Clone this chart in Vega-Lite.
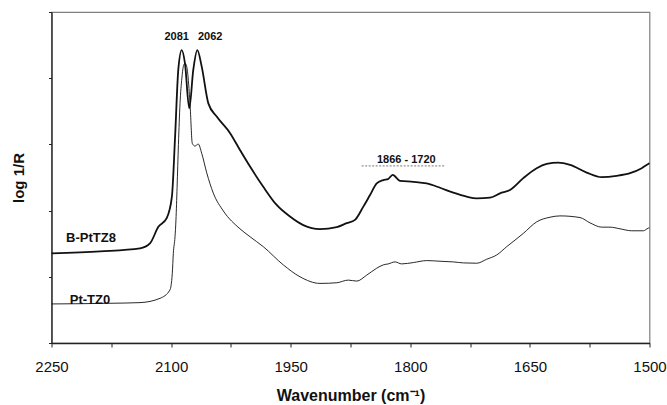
{
  "$schema": "https://vega.github.io/schema/vega-lite/v6.json",
  "width": 598,
  "height": 331,
  "autosize": {"type": "none"},
  "padding": {"left": 51.5, "top": 12, "right": 17.5, "bottom": 62},
  "background": "white",
  "config": {
    "font": "Liberation Sans",
    "view": {"stroke": "#7f7f7f", "strokeWidth": 1.2},
    "axis": {"grid": false, "domainColor": "#222", "tickColor": "#222", "domainWidth": 1.3, "labelColor": "#111", "titleColor": "#111"}
  },
  "datasets": {
    "spectra": [
      {"sample": "B-PtTZ8", "wavenumber": 2250, "absorbance": 2.71},
      {"sample": "B-PtTZ8", "wavenumber": 2189, "absorbance": 2.77},
      {"sample": "B-PtTZ8", "wavenumber": 2139, "absorbance": 2.86},
      {"sample": "B-PtTZ8", "wavenumber": 2126.5, "absorbance": 3.01},
      {"sample": "B-PtTZ8", "wavenumber": 2116, "absorbance": 3.51},
      {"sample": "B-PtTZ8", "wavenumber": 2105.5, "absorbance": 3.77},
      {"sample": "B-PtTZ8", "wavenumber": 2099, "absorbance": 4.42},
      {"sample": "B-PtTZ8", "wavenumber": 2095, "absorbance": 6.23},
      {"sample": "B-PtTZ8", "wavenumber": 2091, "absorbance": 8.25},
      {"sample": "B-PtTZ8", "wavenumber": 2086.7, "absorbance": 8.85},
      {"sample": "B-PtTZ8", "wavenumber": 2082.6, "absorbance": 8.45},
      {"sample": "B-PtTZ8", "wavenumber": 2077.2, "absorbance": 7.09},
      {"sample": "B-PtTZ8", "wavenumber": 2072.2, "absorbance": 8.25},
      {"sample": "B-PtTZ8", "wavenumber": 2067.1, "absorbance": 8.85},
      {"sample": "B-PtTZ8", "wavenumber": 2061.6, "absorbance": 8.35},
      {"sample": "B-PtTZ8", "wavenumber": 2053.3, "absorbance": 7.24},
      {"sample": "B-PtTZ8", "wavenumber": 2042.8, "absorbance": 6.84},
      {"sample": "B-PtTZ8", "wavenumber": 2026, "absorbance": 6.34},
      {"sample": "B-PtTZ8", "wavenumber": 2013.6, "absorbance": 5.83},
      {"sample": "B-PtTZ8", "wavenumber": 2001, "absorbance": 5.33},
      {"sample": "B-PtTZ8", "wavenumber": 1984.4, "absorbance": 4.72},
      {"sample": "B-PtTZ8", "wavenumber": 1967.6, "absorbance": 4.17},
      {"sample": "B-PtTZ8", "wavenumber": 1950.9, "absorbance": 3.82},
      {"sample": "B-PtTZ8", "wavenumber": 1934.2, "absorbance": 3.56},
      {"sample": "B-PtTZ8", "wavenumber": 1913.3, "absorbance": 3.44},
      {"sample": "B-PtTZ8", "wavenumber": 1892.3, "absorbance": 3.5},
      {"sample": "B-PtTZ8", "wavenumber": 1879.8, "absorbance": 3.62},
      {"sample": "B-PtTZ8", "wavenumber": 1869.4, "absorbance": 3.72},
      {"sample": "B-PtTZ8", "wavenumber": 1858.9, "absorbance": 4.12},
      {"sample": "B-PtTZ8", "wavenumber": 1850.5, "absorbance": 4.47},
      {"sample": "B-PtTZ8", "wavenumber": 1842.1, "absorbance": 4.82},
      {"sample": "B-PtTZ8", "wavenumber": 1833.9, "absorbance": 4.92},
      {"sample": "B-PtTZ8", "wavenumber": 1827.9, "absorbance": 4.95},
      {"sample": "B-PtTZ8", "wavenumber": 1822.1, "absorbance": 5.08},
      {"sample": "B-PtTZ8", "wavenumber": 1812.9, "absorbance": 4.9},
      {"sample": "B-PtTZ8", "wavenumber": 1796.2, "absorbance": 4.87},
      {"sample": "B-PtTZ8", "wavenumber": 1779.4, "absorbance": 4.82},
      {"sample": "B-PtTZ8", "wavenumber": 1762.7, "absorbance": 4.69},
      {"sample": "B-PtTZ8", "wavenumber": 1746.1, "absorbance": 4.54},
      {"sample": "B-PtTZ8", "wavenumber": 1729.3, "absorbance": 4.42},
      {"sample": "B-PtTZ8", "wavenumber": 1716.7, "absorbance": 4.37},
      {"sample": "B-PtTZ8", "wavenumber": 1700, "absorbance": 4.39},
      {"sample": "B-PtTZ8", "wavenumber": 1687.5, "absorbance": 4.52},
      {"sample": "B-PtTZ8", "wavenumber": 1675, "absorbance": 4.62},
      {"sample": "B-PtTZ8", "wavenumber": 1658.3, "absorbance": 4.98},
      {"sample": "B-PtTZ8", "wavenumber": 1641.5, "absorbance": 5.28},
      {"sample": "B-PtTZ8", "wavenumber": 1628.9, "absorbance": 5.41},
      {"sample": "B-PtTZ8", "wavenumber": 1614.4, "absorbance": 5.45},
      {"sample": "B-PtTZ8", "wavenumber": 1599.7, "absorbance": 5.38},
      {"sample": "B-PtTZ8", "wavenumber": 1578.8, "absorbance": 5.15},
      {"sample": "B-PtTZ8", "wavenumber": 1560, "absorbance": 5.01},
      {"sample": "B-PtTZ8", "wavenumber": 1541.1, "absorbance": 5.05},
      {"sample": "B-PtTZ8", "wavenumber": 1524.4, "absorbance": 5.13},
      {"sample": "B-PtTZ8", "wavenumber": 1509.8, "absorbance": 5.28},
      {"sample": "B-PtTZ8", "wavenumber": 1501.5, "absorbance": 5.41},
      {"sample": "B-PtTZ8", "wavenumber": 1500, "absorbance": 5.43},
      {"sample": "Pt-TZ0", "wavenumber": 2250, "absorbance": 1.18},
      {"sample": "Pt-TZ0", "wavenumber": 2176.6, "absorbance": 1.2},
      {"sample": "Pt-TZ0", "wavenumber": 2139, "absorbance": 1.22},
      {"sample": "Pt-TZ0", "wavenumber": 2113.9, "absorbance": 1.35},
      {"sample": "Pt-TZ0", "wavenumber": 2101.5, "absorbance": 1.6},
      {"sample": "Pt-TZ0", "wavenumber": 2098.5, "absorbance": 2.1},
      {"sample": "Pt-TZ0", "wavenumber": 2097.2, "absorbance": 2.71},
      {"sample": "Pt-TZ0", "wavenumber": 2095.1, "absorbance": 3.21},
      {"sample": "Pt-TZ0", "wavenumber": 2093.9, "absorbance": 3.72},
      {"sample": "Pt-TZ0", "wavenumber": 2092.5, "absorbance": 4.7},
      {"sample": "Pt-TZ0", "wavenumber": 2090.8, "absorbance": 6.0},
      {"sample": "Pt-TZ0", "wavenumber": 2088.8, "absorbance": 7.24},
      {"sample": "Pt-TZ0", "wavenumber": 2086.5, "absorbance": 8.0},
      {"sample": "Pt-TZ0", "wavenumber": 2084.7, "absorbance": 8.35},
      {"sample": "Pt-TZ0", "wavenumber": 2082.6, "absorbance": 8.45},
      {"sample": "Pt-TZ0", "wavenumber": 2080.4, "absorbance": 8.35},
      {"sample": "Pt-TZ0", "wavenumber": 2076.3, "absorbance": 7.24},
      {"sample": "Pt-TZ0", "wavenumber": 2073.4, "absorbance": 6.03},
      {"sample": "Pt-TZ0", "wavenumber": 2070, "absorbance": 5.95},
      {"sample": "Pt-TZ0", "wavenumber": 2065.9, "absorbance": 6.01},
      {"sample": "Pt-TZ0", "wavenumber": 2061.6, "absorbance": 5.73},
      {"sample": "Pt-TZ0", "wavenumber": 2055.3, "absorbance": 5.14},
      {"sample": "Pt-TZ0", "wavenumber": 2047.1, "absorbance": 4.53},
      {"sample": "Pt-TZ0", "wavenumber": 2034.5, "absorbance": 3.99},
      {"sample": "Pt-TZ0", "wavenumber": 2013.6, "absorbance": 3.45},
      {"sample": "Pt-TZ0", "wavenumber": 2001, "absorbance": 3.21},
      {"sample": "Pt-TZ0", "wavenumber": 1984.4, "absorbance": 2.91},
      {"sample": "Pt-TZ0", "wavenumber": 1959.3, "absorbance": 2.36},
      {"sample": "Pt-TZ0", "wavenumber": 1938.3, "absorbance": 2.0},
      {"sample": "Pt-TZ0", "wavenumber": 1913.3, "absorbance": 1.8},
      {"sample": "Pt-TZ0", "wavenumber": 1892.3, "absorbance": 1.82},
      {"sample": "Pt-TZ0", "wavenumber": 1877.8, "absorbance": 1.9},
      {"sample": "Pt-TZ0", "wavenumber": 1867.2, "absorbance": 1.87},
      {"sample": "Pt-TZ0", "wavenumber": 1854.7, "absorbance": 2.05},
      {"sample": "Pt-TZ0", "wavenumber": 1842.1, "absorbance": 2.26},
      {"sample": "Pt-TZ0", "wavenumber": 1833.9, "absorbance": 2.36},
      {"sample": "Pt-TZ0", "wavenumber": 1827.6, "absorbance": 2.39},
      {"sample": "Pt-TZ0", "wavenumber": 1819.2, "absorbance": 2.45},
      {"sample": "Pt-TZ0", "wavenumber": 1810.8, "absorbance": 2.39},
      {"sample": "Pt-TZ0", "wavenumber": 1796.2, "absorbance": 2.43},
      {"sample": "Pt-TZ0", "wavenumber": 1779.4, "absorbance": 2.49},
      {"sample": "Pt-TZ0", "wavenumber": 1762.7, "absorbance": 2.47},
      {"sample": "Pt-TZ0", "wavenumber": 1746.1, "absorbance": 2.45},
      {"sample": "Pt-TZ0", "wavenumber": 1733.5, "absorbance": 2.42},
      {"sample": "Pt-TZ0", "wavenumber": 1716.7, "absorbance": 2.41},
      {"sample": "Pt-TZ0", "wavenumber": 1704.2, "absorbance": 2.53},
      {"sample": "Pt-TZ0", "wavenumber": 1691.6, "absorbance": 2.66},
      {"sample": "Pt-TZ0", "wavenumber": 1679.1, "absorbance": 2.91},
      {"sample": "Pt-TZ0", "wavenumber": 1658.3, "absorbance": 3.31},
      {"sample": "Pt-TZ0", "wavenumber": 1641.5, "absorbance": 3.66},
      {"sample": "Pt-TZ0", "wavenumber": 1624.8, "absorbance": 3.8},
      {"sample": "Pt-TZ0", "wavenumber": 1612.3, "absorbance": 3.84},
      {"sample": "Pt-TZ0", "wavenumber": 1587.2, "absorbance": 3.79},
      {"sample": "Pt-TZ0", "wavenumber": 1574.6, "absorbance": 3.63},
      {"sample": "Pt-TZ0", "wavenumber": 1560, "absorbance": 3.5},
      {"sample": "Pt-TZ0", "wavenumber": 1549.5, "absorbance": 3.5},
      {"sample": "Pt-TZ0", "wavenumber": 1537, "absorbance": 3.45},
      {"sample": "Pt-TZ0", "wavenumber": 1522.3, "absorbance": 3.39},
      {"sample": "Pt-TZ0", "wavenumber": 1507.8, "absorbance": 3.39},
      {"sample": "Pt-TZ0", "wavenumber": 1501.5, "absorbance": 3.47},
      {"sample": "Pt-TZ0", "wavenumber": 1500, "absorbance": 3.48}
    ],
    "peaks": [
      {"label": "2081", "wavenumber": 2093, "absorbance": 9.23},
      {"label": "2062", "wavenumber": 2051, "absorbance": 9.23},
      {"label": "1866 - 1720", "wavenumber": 1805, "absorbance": 5.53}
    ],
    "samples": [
      {"label": "B-PtTZ8", "wavenumber": 2200.5, "absorbance": 3.17},
      {"label": "Pt-TZ0", "wavenumber": 2201.7, "absorbance": 1.3}
    ],
    "ranges": [
      {"start": 1861, "end": 1756.5, "absorbance": 5.35}
    ]
  },
  "layer": [
    {
      "data": {"name": "spectra"},
      "mark": {"type": "line", "color": "#111", "interpolate": "monotone"},
      "encoding": {
        "x": {
          "field": "wavenumber", "type": "quantitative",
          "scale": {"domain": [1500, 2250], "reverse": true, "nice": false, "zero": false},
          "axis": {
            "values": [2250, 2175, 2100, 2025, 1950, 1875, 1800, 1725, 1650, 1575, 1500],
            "labelExpr": "datum.value % 150 == 0 ? datum.label : ''",
            "format": "d",
            "tickSize": 4,
            "labelPadding": 12,
            "labelFontSize": 15,
            "labelFlush": false,
            "title": "Wavenumber (cm⁻¹)",
            "titleFontSize": 16,
            "titleFontWeight": "bold",
            "titlePadding": 13
          }
        },
        "y": {
          "field": "absorbance", "type": "quantitative",
          "scale": {"domain": [0, 10], "nice": false},
          "axis": {
            "values": [0, 1, 2, 3, 4, 5, 6, 7, 8, 9, 10],
            "labels": false,
            "tickSize": 3,
            "title": "log 1/R",
            "titleFontSize": 15,
            "titleFontWeight": "bold",
            "titlePadding": 22
          }
        },
        "detail": {"field": "sample", "type": "nominal"},
        "strokeWidth": {
          "field": "sample", "type": "nominal",
          "scale": {"domain": ["B-PtTZ8", "Pt-TZ0"], "range": [1.8, 0.9]},
          "legend": null
        }
      }
    },
    {
      "data": {"name": "ranges"},
      "mark": {"type": "rule", "color": "#555", "strokeWidth": 0.8, "strokeDash": [2, 1.5]},
      "encoding": {
        "x": {"field": "start", "type": "quantitative"},
        "x2": {"field": "end"},
        "y": {"field": "absorbance", "type": "quantitative"}
      }
    },
    {
      "data": {"name": "peaks"},
      "mark": {"type": "text", "fontSize": 11, "fontWeight": "bold", "color": "#111", "align": "center", "baseline": "middle"},
      "encoding": {
        "x": {"field": "wavenumber", "type": "quantitative"},
        "y": {"field": "absorbance", "type": "quantitative"},
        "text": {"field": "label"}
      }
    },
    {
      "data": {"name": "samples"},
      "mark": {"type": "text", "fontSize": 13, "fontWeight": "bold", "color": "#111", "align": "center", "baseline": "middle"},
      "encoding": {
        "x": {"field": "wavenumber", "type": "quantitative"},
        "y": {"field": "absorbance", "type": "quantitative"},
        "text": {"field": "label"}
      }
    }
  ]
}
